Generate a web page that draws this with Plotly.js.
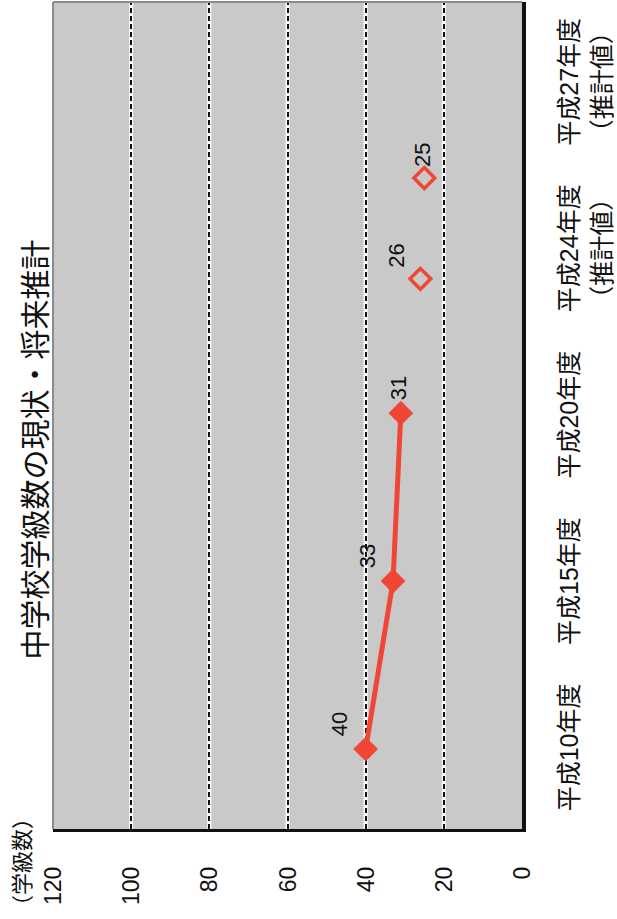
<!DOCTYPE html>
<html>
<head>
<meta charset="utf-8">
<script src="https://cdn.plot.ly/plotly-3.0.1.min.js"></script>
<style>
  html, body { margin: 0; padding: 0; background: #fff; }
  #wrap { position: relative; width: 617px; height: 919px; overflow: hidden; background: #fff; }
  #chart { position: absolute; left: 0; top: 0; width: 919px; height: 617px;
           transform-origin: 0 0; transform: translate(0, 919px) rotate(-90deg); }
</style>
</head>
<body>
<div id="wrap"><div id="chart"></div></div>
<script>
// ---- data ----
const years = [10, 15, 20, 24, 27];
const yearLabels = ['平成10年度', '平成15年度', '平成20年度', '平成24年度', '平成27年度'];
const noteLabels = ['', '', '', '（推計値）', '（推計値）'];
const actualYears = [10, 15, 20];
const actualCounts = [40, 33, 31];
const estYears = [24, 27];
const estCounts = [26, 25];
const valueTicks = [0, 20, 40, 60, 80, 100, 120];
const chartTitle = '中学校学級数の現状・将来推計';
const unitLabel = '（学級数）';

// category labels (evenly spaced text row, as in the original)
const categoryLabels = yearLabels.map((t, i) => noteLabels[i] ? t + '<br>' + noteLabels[i] : t);

// ---- styling ----
const RED = '#ef4636';
const FONT = 'Liberation Sans, Noto Sans CJK JP, sans-serif';

const traces = [
  {
    x: actualYears, y: actualCounts, xaxis: 'x', yaxis: 'y',
    type: 'scatter', mode: 'lines+markers+text',
    line: { color: RED, width: 5 },
    marker: { symbol: 'diamond', size: 19, color: RED },
    text: actualCounts.map(String),
    textposition: ['top right', 'top right', 'middle right'],
    textfont: { family: FONT, size: 22, color: '#111' },
    cliponaxis: false, hoverinfo: 'skip'
  },
  {
    x: estYears, y: estCounts, xaxis: 'x', yaxis: 'y',
    type: 'scatter', mode: 'markers+text',
    marker: { symbol: 'diamond-open', size: 16, color: RED, line: { color: RED, width: 3.5 } },
    text: estCounts.map(String),
    textposition: ['top right', 'middle right'],
    textfont: { family: FONT, size: 22, color: '#111' },
    cliponaxis: false, hoverinfo: 'skip'
  },
  {
    x: categoryLabels, y: categoryLabels.map(() => null), xaxis: 'x2', yaxis: 'y',
    type: 'scatter', mode: 'markers', hoverinfo: 'skip', showlegend: false
  }
];

const shapes = [];
valueTicks.filter(v => v > 0 && v < 120).forEach(v => {
  shapes.push({ type: 'line', xref: 'paper', x0: 0, x1: 1, yref: 'y', y0: v, y1: v,
                line: { color: '#ffffff', width: 4 }, layer: 'below' });
});
// light border on the far sides
shapes.push({ type: 'line', xref: 'paper', x0: 0, x1: 1, yref: 'paper', y0: 1, y1: 1,
              line: { color: '#8c8c8c', width: 2 }, layer: 'above' });
shapes.push({ type: 'line', xref: 'paper', x0: 1, x1: 1, yref: 'paper', y0: 0, y1: 1,
              line: { color: '#8c8c8c', width: 2 }, layer: 'above' });

const layout = {
  width: 919, height: 617,
  margin: { l: 90, r: 2, t: 53, b: 95, pad: 0 },
  paper_bgcolor: '#ffffff',
  plot_bgcolor: '#c9c9c9',
  showlegend: false,
  font: { family: FONT, color: '#111' },
  title: {
    text: chartTitle,
    font: { family: FONT, size: 30, color: '#111' },
    x: 0.511, xref: 'container', xanchor: 'center',
    y: 0.943, yref: 'container', yanchor: 'middle'
  },
  xaxis: {
    type: 'linear', range: [7.62, 32.24],
    showticklabels: false, ticks: '', showgrid: false, zeroline: false,
    showline: true, linecolor: '#111', linewidth: 4
  },
  xaxis2: {
    type: 'category', overlaying: 'x', anchor: 'y', side: 'bottom',
    range: [-0.49, 4.48], tickangle: 0,
    ticks: '', showgrid: false, zeroline: false, showline: false,
    ticklabelstandoff: 30,
    tickfont: { family: FONT, size: 25, color: '#111' }
  },
  yaxis: {
    range: [0, 120], tickmode: 'array', tickvals: valueTicks,
    ticks: '', showgrid: true, gridcolor: '#111', gridwidth: 2, griddash: '5px,3px',
    zeroline: false, showline: true, linecolor: '#111', linewidth: 3,
    ticklabelstandoff: 30,
    tickfont: { family: FONT, size: 23, color: '#111' }
  },
  shapes: shapes,
  annotations: [
    { text: unitLabel, xref: 'paper', yref: 'paper', x: -0.04, y: 1.064,
      xanchor: 'center', yanchor: 'middle', showarrow: false,
      font: { family: FONT, size: 22, color: '#111' } }
  ]
};

Plotly.newPlot('chart', traces, layout, { staticPlot: true, displayModeBar: false });
</script>
</body>
</html>
